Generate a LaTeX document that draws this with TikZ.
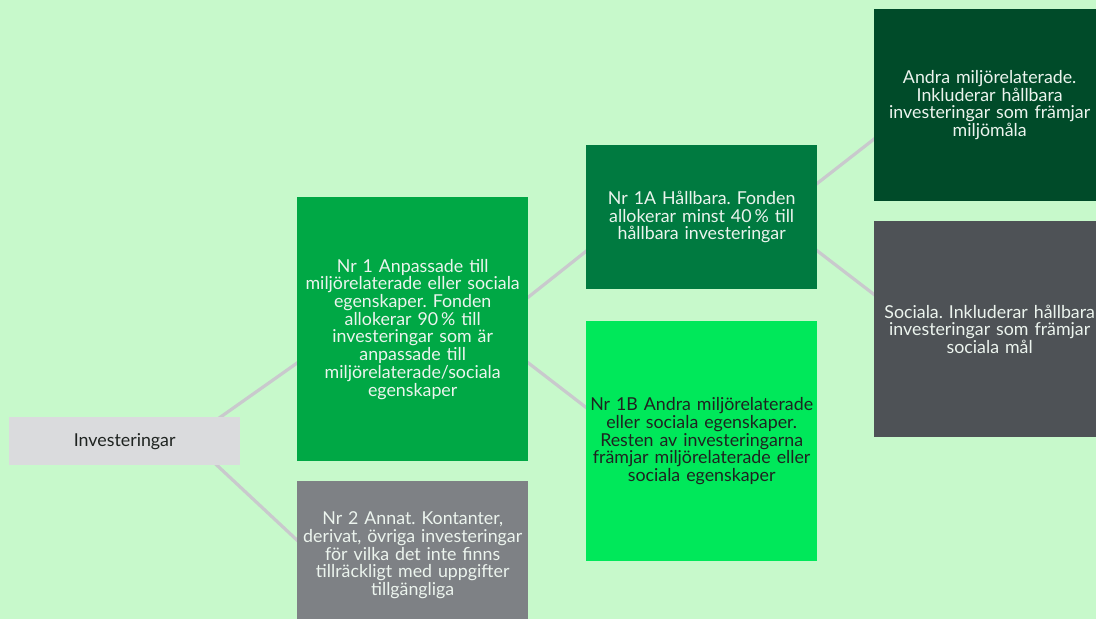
\documentclass[tikz,border=0pt]{standalone}
\usepackage{fontspec}
\setmainfont{Lato}
\usetikzlibrary{calc}
\definecolor{bgc}{HTML}{C7F9CB}
\definecolor{invc}{HTML}{DADBDD}
\definecolor{nronec}{HTML}{00A845}
\definecolor{nrtwoc}{HTML}{7E8185}
\definecolor{nraac}{HTML}{007A40}
\definecolor{nrbbc}{HTML}{00E85A}
\definecolor{andrac}{HTML}{004B29}
\definecolor{socc}{HTML}{4E5256}
\definecolor{connc}{HTML}{C9C9CD}
\definecolor{lighttxt}{HTML}{ECF4EE}
\definecolor{darktxt}{HTML}{1E2320}
\pgfdeclarelayer{bglayer}
\pgfdeclarelayer{edges}
\pgfsetlayers{bglayer,edges,main}
\tikzset{
  box/.style={rectangle, inner sep=0pt, anchor=north west, align=center,
    minimum width=231pt, text width=229pt,
    font=\fontsize{17.8pt}{17.7pt}\selectfont\frenchspacing, text=lighttxt},
  conn/.style={draw=connc, line width=3.2pt},
}
\begin{document}
\begin{tikzpicture}[x=1pt,y=-1pt]
\useasboundingbox (0,0) rectangle (1096,619);
\clip (0,0) rectangle (1096,619);
\begin{pgfonlayer}{bglayer}
\fill[bgc] (0,0) rectangle (1096,619);
\end{pgfonlayer}

\node[box, fill=invc, minimum height=48pt, text=darktxt] (inv) at (9,417) {Investeringar};

\node[box, fill=nronec, minimum height=264pt] (nr1) at (297,197)
  {Nr 1 Anpassade till\\miljörelaterade eller sociala\\egenskaper. Fonden\\allokerar 90\,\% till\\investeringar som är\\anpassade till\\miljörelaterade/sociala\\egenskaper};

\node[box, fill=nrtwoc, minimum height=148pt] (nr2) at (297,481)
  {Nr 2 Annat. Kontanter,\\derivat, övriga investeringar\\för vilka det inte finns\\tillräckligt med uppgifter\\tillgängliga};

\node[box, fill=nraac, minimum height=144pt] (nr1a) at (586,145)
  {Nr 1A Hållbara. Fonden\\allokerar minst 40\,\% till\\hållbara investeringar};

\node[box, fill=nrbbc, minimum height=240pt, text=darktxt] (nr1b) at (586,321)
  {Nr 1B Andra miljörelaterade\\eller sociala egenskaper.\\Resten av investeringarna\\främjar miljörelaterade eller\\sociala egenskaper};

\node[box, fill=andrac, minimum height=192pt] (andra) at (874,9)
  {Andra miljörelaterade.\\Inkluderar hållbara\\investeringar som främjar\\miljömåla};

\node[box, fill=socc, minimum height=216pt] (soc) at (874,221)
  {Sociala. Inkluderar hållbara\\investeringar som främjar\\sociala mål};

\begin{pgfonlayer}{edges}
\draw[conn] ([shift={(-34,10)}]inv.north east) -- ([shift={(14,24)}]nr1.west);
\draw[conn] ([shift={(-34,-10)}]inv.south east) -- ([shift={(14,-2)}]nr2.west);
\draw[conn] ([shift={(-14,-21)}]nr1.east) -- ([shift={(14,23)}]nr1a.west);
\draw[conn] ([shift={(-14,23)}]nr1.east) -- ([shift={(14,-23)}]nr1b.west);
\draw[conn] ([shift={(-14,-23)}]nr1a.east) -- ([shift={(14,23)}]andra.west);
\draw[conn] ([shift={(-14,23)}]nr1a.east) -- ([shift={(14,-24)}]soc.west);
\end{pgfonlayer}
\end{tikzpicture}
\end{document}
